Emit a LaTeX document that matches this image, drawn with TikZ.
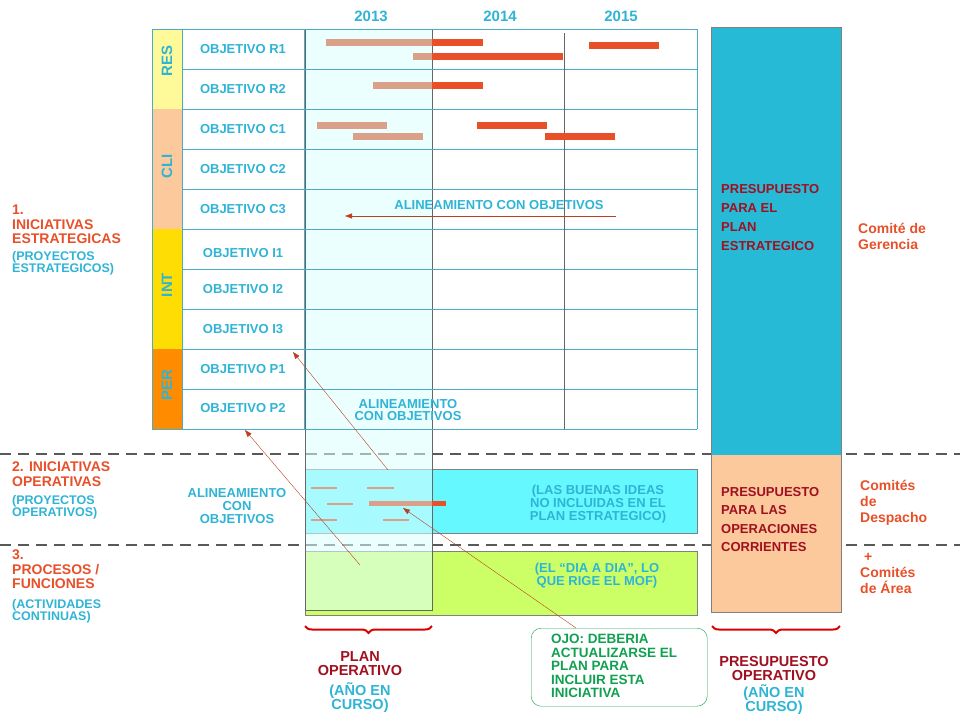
\documentclass[tikz,border=0pt]{standalone}
\usepackage{fontspec}
\setmainfont{Liberation Sans}
\usetikzlibrary{decorations.pathreplacing,arrows.meta}
\definecolor{cy}{HTML}{2FB4D6}
\definecolor{tl}{HTML}{4BACC6}
\definecolor{or}{HTML}{E8502A}
\definecolor{pk}{HTML}{DBA08A}
\definecolor{dr}{HTML}{A01020}
\definecolor{gr}{HTML}{10A050}
\definecolor{bud}{HTML}{26BAD6}
\definecolor{bud2}{HTML}{FBC99C}
\definecolor{opc}{HTML}{66F8FF}
\definecolor{lim}{HTML}{CCFF66}
\definecolor{col}{HTML}{DDFFFF}
\tikzset{x=1pt,y=-1pt,
 txt/.style={font=\bfseries\fontsize{13}{14}\selectfont,align=center,inner sep=0},
 obj/.style={txt,text=cy},
 lbl/.style={font=\bfseries\fontsize{14}{14.5}\selectfont,align=left,inner sep=0,anchor=north west},
 sub/.style={lbl,text=cy,font=\bfseries\fontsize{12.5}{12}\selectfont},
 pbar/.style={pk,line width=7pt},
 rbar/.style={or,line width=7pt},
 garrow/.style={or!80!black,thin,-{Triangle[length=7pt,width=5pt]}},
 brace/.style={red!85!black,line width=2pt,decorate,decoration={brace,amplitude=7pt,mirror}}}
\begin{document}
\begin{tikzpicture}
\useasboundingbox (0,0) rectangle (960,720);
% strips
\fill[yellow!40] (152,29) rectangle (182,109);
\fill[bud2] (152,109) rectangle (182,229);
\fill[yellow!80!orange] (152,229) rectangle (182,349);
\fill[orange!90!yellow] (152,349) rectangle (182,429);
\draw[tl] (152,29) rectangle (182,429);
\foreach \t/\y in {RES/61,CLI/166,INT/285,PER/385}
 \node[rotate=90,font=\bfseries\fontsize{15}{16}\selectfont,text=cy] (s\t) at (167,\y) {\t};
% dashed
\draw[gray!70!black,line width=2.5pt,dash pattern=on 11pt off 7pt] (0,454)--(960,454);
\draw[gray!70!black,line width=2.5pt,dash pattern=on 11pt off 7pt] (0,545)--(960,545);
% op boxes
\fill[opc] (305,469) rectangle (697,533); \draw[gray] (305,469) rectangle (697,533);
\fill[lim] (305,551) rectangle (697,615); \draw[gray] (305,551) rectangle (697,615);
% 2013 column
\fill[col,opacity=0.55] (305,29) rectangle (432,610);
\draw[gray!80!black] (305,29) rectangle (432,610);
% grid
\foreach \y in {29,69,...,429} \draw[tl] (182,\y) -- (697,\y);
\draw[tl] (182,29) -- (182,429) (304,29)--(304,429) (697,29)--(697,429);
\draw[gray!80!black] (564,33) -- (564,429);
\foreach \n/\t/\y in {r1/OBJETIVO R1/49,r2/OBJETIVO R2/89,c1/OBJETIVO C1/129,c2/OBJETIVO C2/169,c3/OBJETIVO C3/209,i1/OBJETIVO I1/253,i2/OBJETIVO I2/289,i3/OBJETIVO I3/329,p1/OBJETIVO P1/369,p2/OBJETIVO P2/408}
 \node[obj] (\n) at (243,\y) {\t};
\foreach \t/\x in {2013/371,2014/500,2015/621} \node[txt,text=cy,font=\bfseries\fontsize{15}{16}\selectfont] (y\t) at (\x,16) {\t};
% bars
\draw[pbar] (326,42)--(432,42); \draw[rbar] (432,42)--(483,42);
\draw[rbar] (589,45)--(659,45);
\draw[pbar] (413,56)--(432,56); \draw[rbar] (432,56)--(563,56);
\draw[pbar] (373,85)--(432,85); \draw[rbar] (432,85)--(483,85);
\draw[pbar] (317,125)--(387,125); \draw[rbar] (477,125)--(547,125);
\draw[pbar] (353,136)--(423,136); \draw[rbar] (545,136)--(615,136);
% op bars
\foreach \a/\b/\y in {311/337/488,367/394/488,327/353/504,311/337/520,383/409/520} \draw[pk,line width=2.5pt] (\a,\y)--(\b,\y);
\draw[pk,line width=5pt] (369,503)--(432,503); \draw[rbar,line width=5pt] (432,503)--(446,503);
\coordinate (bartip) at (403,508);
% alineamiento
\node[obj] (al1) at (499,205) {ALINEAMIENTO CON OBJETIVOS};
\coordinate (a1s) at (616,216); \coordinate (a1e) at (345,216);
\draw[garrow] (a1s) -- (a1e);
\node[obj,font=\bfseries\fontsize{13}{12}\selectfont] (al2) at (408,410) {ALINEAMIENTO\\CON OBJETIVOS};
\node[obj,font=\bfseries\fontsize{13}{13}\selectfont] (al3) at (237,506) {ALINEAMIENTO\\CON\\OBJETIVOS};
\coordinate (s2) at (388,470); \coordinate (e2) at (293,352);
\coordinate (s3) at (360,565); \coordinate (e3) at (245,430);
\draw[garrow] (s2)--(e2); \draw[garrow] (s3)--(e3);
\node[obj,font=\bfseries\fontsize{13}{13}\selectfont] (ideas) at (598,504) {(LAS BUENAS IDEAS\\NO INCLUIDAS EN EL\\PLAN ESTRATEGICO)};
\node[obj,font=\bfseries\fontsize{13}{13}\selectfont] (dia) at (597,576) {(EL “DIA A DIA”, LO\\QUE RIGE EL MOF)};
% budgets
\fill[bud] (711,27) rectangle (841,455);
\fill[bud2] (711,455) rectangle (841,612);
\draw[gray] (711,27) rectangle (841,612);
\node[txt,align=left,anchor=north west,text=dr,font=\bfseries\fontsize{13}{19}\selectfont] (pe) at (721,184) {PRESUPUESTO\\PARA EL\\PLAN\\ESTRATEGICO};
\node[txt,align=left,anchor=north west,text=dr,font=\bfseries\fontsize{13}{18.5}\selectfont] (po) at (721,487) {PRESUPUESTO\\PARA LAS\\OPERACIONES\\CORRIENTES};
% left labels
\node[lbl,text=or] (l1) at (12,205) {1.\\INICIATIVAS\\ESTRATEGICAS};
\node[sub] (l1b) at (12,251) {(PROYECTOS\\ESTRATEGICOS)};
\node[lbl,text=or] (l2) at (12,462) {2. INICIATIVAS\\OPERATIVAS};
\node[sub] (l2b) at (12,495) {(PROYECTOS\\OPERATIVOS)};
\node[lbl,text=or] (l3) at (12,550) {3.\\PROCESOS /\\FUNCIONES};
\node[sub] (l3b) at (12,599) {(ACTIVIDADES\\CONTINUAS)};
% right labels
\node[lbl,text=or,font=\bfseries\fontsize{14}{16}\selectfont] (g) at (858,223) {Comité de\\Gerencia};
\node[lbl,text=or,font=\bfseries\fontsize{14}{16}\selectfont] (d) at (860,480) {Comités\\de\\Despacho};
\node[lbl,text=or,font=\bfseries\fontsize{14}{16}\selectfont] (ar) at (860,553) {\ +\\Comités\\de Área};
% braces
\draw[brace] (305,626) -- (432,626);
\draw[brace] (712,626) -- (840,626);
\node[txt,text=dr,font=\bfseries\fontsize{14.5}{14}\selectfont] (pop) at (360,664) {PLAN\\OPERATIVO};
\node[txt,text=cy,font=\bfseries\fontsize{14.5}{14}\selectfont] (pc) at (360,698) {(AÑO EN\\CURSO)};
\node[txt,text=dr,font=\bfseries\fontsize{14.5}{14}\selectfont] (pro) at (774,668) {PRESUPUESTO\\OPERATIVO};
\node[txt,text=cy,font=\bfseries\fontsize{14.5}{14}\selectfont] (pc2) at (774,700) {(AÑO EN\\CURSO)};
% OJO
\node[draw=gr,rounded corners=10pt,minimum width=176pt,minimum height=78pt,anchor=north west,inner sep=0] (ojo) at (531,628) {};
\node[txt,align=left,anchor=north west,text=gr,font=\bfseries\fontsize{13.5}{13.5}\selectfont] (ojot) at (551,634) {OJO: DEBERIA\\ACTUALIZARSE EL\\PLAN PARA\\INCLUIR ESTA\\INICIATIVA};
\draw[garrow] (ojo.north -| 576,0) -- (bartip);
\end{tikzpicture}
\end{document}
